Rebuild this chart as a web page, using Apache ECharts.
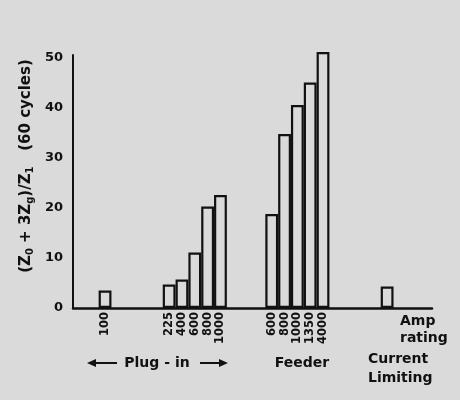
<!DOCTYPE html>
<html>
<head>
<meta charset="utf-8">
<script src="https://cdn.jsdelivr.net/npm/echarts@6/dist/echarts.min.js"></script>
<style>
  html, body { margin: 0; padding: 0; background: #dadada; }
  #chart { width: 460px; height: 400px; }
</style>
</head>
<body>
<div id="chart"></div>
<script>
// ratings (x labels) and ratio values
const plugInRatings = ['100', '225', '400', '600', '800', '1000']
const plugInValues = [3.5, 4.7, 5.7, 11.1, 20.3, 22.6]
const feederRatings = ['600', '800', '1000', '1350', '4000']
const feederValues = [18.8, 34.8, 40.6, 45.1, 51.2]
const limitingRatings = ['']
const limitingValues = [4.3]
const yTicks = [0, 10, 20, 30, 40, 50]

// category slots, with empty ones between the groups
const categories = []
const values = []
function addSlot (label, value) {
  categories.push(label)
  values.push(value)
}
function addGap (n) {
  for (let i = 0; i < n; i++) addSlot('', null)
}

addGap(2)
addSlot(plugInRatings[0], plugInValues[0])
addGap(4)
for (let i = 1; i < plugInRatings.length; i++) addSlot(plugInRatings[i], plugInValues[i])
addGap(3)
feederRatings.forEach((r, i) => addSlot(r, feederValues[i]))
addGap(4)
limitingRatings.forEach((r, i) => addSlot(r, limitingValues[i]))
addGap(3)

const font = 'DejaVu Sans'
const ink = '#111'
const textFont = 'bold 14px "DejaVu Sans"'

const chart = echarts.init(document.getElementById('chart'), null, { renderer: 'canvas' })

chart.setOption({
  backgroundColor: '#dadada',
  animation: false,
  grid: {
    left: 73,
    right: 28,
    top: 55,
    bottom: 92
  },
  xAxis: {
    type: 'category',
    data: categories,
    boundaryGap: true,
    axisLine: { lineStyle: { color: ink, width: 2.5 } },
    axisTick: { show: false },
    axisLabel: {
      interval: 0,
      rotate: 90,
      margin: 4,
      color: ink,
      fontFamily: font,
      fontWeight: 'bold',
      fontSize: 11.5
    },
    splitLine: { show: false }
  },
  yAxis: {
    type: 'value',
    min: yTicks[0],
    max: 50.6,
    interval: 10,
    axisLine: { show: true, lineStyle: { color: ink, width: 2 } },
    axisTick: { show: false },
    splitLine: { show: false },
    axisLabel: {
      showMaxLabel: false,
      margin: 10,
      color: ink,
      fontFamily: font,
      fontWeight: 'bold',
      fontSize: 13
    }
  },
  series: [
    {
      type: 'bar',
      data: values,
      barWidth: '100%',
      clip: false,
      itemStyle: {
        color: 'rgba(255,255,255,0)',
        borderColor: ink,
        borderWidth: 2.2
      }
    }
  ],
  graphic: [
    // y axis title
    {
      type: 'text',
      x: 26,
      y: 166,
      rotation: Math.PI / 2,
      style: {
        text: '(Z{sub|0} + 3Z{sub|g})/Z{sub|1}   (60 cycles)',
        align: 'center',
        verticalAlign: 'middle',
        fill: ink,
        font: 'bold 15px "DejaVu Sans"',
        rich: {
          sub: {
            fontSize: 10,
            fontWeight: 'bold',
            fontFamily: font,
            fill: ink,
            padding: [9, 0, 0, 0]
          }
        }
      }
    },
    {
      type: 'text',
      x: 400,
      y: 313,
      style: {
        text: 'Amp\nrating',
        fill: ink,
        font: textFont,
        lineHeight: 17
      }
    },
    {
      type: 'text',
      x: 157,
      y: 363,
      style: {
        text: 'Plug - in',
        align: 'center',
        verticalAlign: 'middle',
        fill: ink,
        font: textFont
      }
    },
    {
      type: 'line',
      shape: { x1: 92, y1: 363, x2: 117, y2: 363 },
      style: { stroke: ink, lineWidth: 2 }
    },
    {
      type: 'polygon',
      shape: { points: [[87, 363], [96, 359], [96, 367]] },
      style: { fill: ink }
    },
    {
      type: 'line',
      shape: { x1: 200, y1: 363, x2: 223, y2: 363 },
      style: { stroke: ink, lineWidth: 2 }
    },
    {
      type: 'polygon',
      shape: { points: [[228, 363], [219, 359], [219, 367]] },
      style: { fill: ink }
    },
    {
      type: 'text',
      x: 302,
      y: 363,
      style: {
        text: 'Feeder',
        align: 'center',
        verticalAlign: 'middle',
        fill: ink,
        font: textFont
      }
    },
    {
      type: 'text',
      x: 368,
      y: 350,
      style: {
        text: 'Current\nLimiting',
        fill: ink,
        font: textFont,
        lineHeight: 19
      }
    }
  ]
})
</script>
</body>
</html>
